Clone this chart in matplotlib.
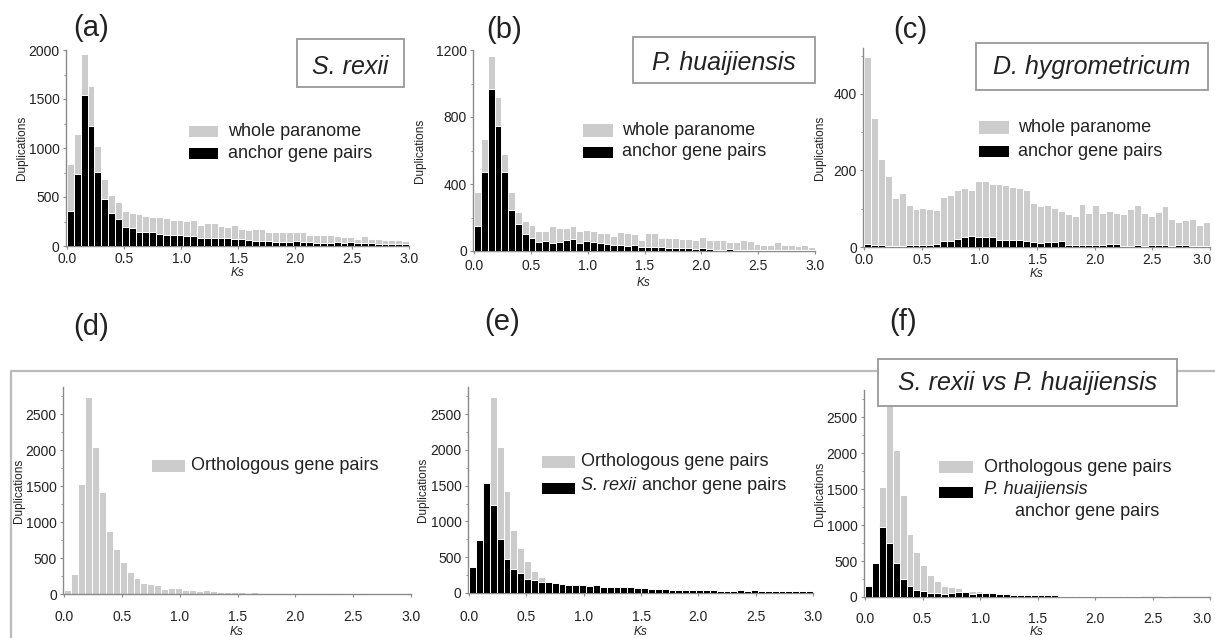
import numpy as np
import matplotlib
matplotlib.use("Agg")
import matplotlib.pyplot as plt
from matplotlib.patches import Rectangle
from matplotlib.lines import Line2D
from matplotlib.ticker import MultipleLocator
from matplotlib.transforms import ScaledTranslation

plt.rcParams['font.family'] = ['Liberation Sans', 'DejaVu Sans']

# ---------------- data (Ks bins of width 0.06, 0.0 - 3.0) ----------------
bin_width = 0.06
bin_left = np.round(np.arange(50) * bin_width, 2)

srexii_whole = [840, 1147, 1956, 1631, 1024, 683, 522, 454, 362, 341,
                324, 311, 297, 294, 283, 266, 266, 253, 266, 215,
                232, 232, 205, 198, 212, 177, 164, 177, 177, 143,
                140, 140, 140, 140, 140, 116, 109, 109, 109, 102,
                96, 96, 68, 102, 75, 68, 61, 61, 58, 55]
srexii_anchor = [358, 737, 1539, 1229, 751, 478, 341, 280, 198, 184,
                 147, 147, 143, 119, 116, 113, 113, 99, 106, 78,
                 78, 78, 78, 85, 68, 68, 61, 55, 55, 48,
                 44, 44, 44, 48, 44, 38, 34, 34, 34, 38,
                 34, 41, 27, 27, 27, 24, 24, 24, 24, 24]

phuai_whole = [354, 669, 1162, 921, 581, 355, 232, 178, 158, 118,
               122, 148, 138, 136, 150, 120, 126, 120, 110, 110,
               92, 114, 110, 100, 68, 108, 108, 80, 80, 80,
               72, 72, 68, 84, 66, 66, 66, 52, 56, 66,
               58, 44, 38, 38, 54, 34, 36, 28, 34, 24]
phuai_anchor = [150, 469, 970, 745, 469, 244, 160, 104, 80, 56,
                58, 48, 56, 68, 72, 48, 60, 56, 50, 42,
                38, 34, 28, 34, 24, 24, 24, 22, 20, 16,
                20, 16, 14, 16, 12, 8, 8, 12, 8, 8,
                6, 6, 4, 8, 6, 6, 6, 4, 6, 4]

dhyg_whole = [496, 337, 229, 186, 127, 141, 111, 98, 103, 98,
              96, 130, 136, 150, 154, 149, 172, 172, 165, 165,
              161, 156, 153, 148, 114, 108, 111, 103, 94, 85,
              81, 112, 90, 111, 88, 95, 88, 86, 100, 110,
              88, 80, 92, 106, 73, 66, 70, 72, 58, 65]
dhyg_anchor = [8, 4, 4, 2, 2, 2, 4, 5, 5, 6,
               8, 15, 16, 22, 25, 28, 26, 25, 26, 18,
               18, 18, 18, 15, 12, 10, 12, 12, 15, 5,
               5, 5, 5, 6, 5, 8, 8, 3, 2, 5,
               2, 4, 4, 4, 2, 4, 4, 2, 2, 2]

orthologous = [56, 278, 1528, 2741, 2046, 1426, 875, 630, 449, 306,
               227, 148, 134, 125, 74, 79, 79, 56, 51, 42,
               56, 37, 32, 28, 28, 23, 19, 28, 14, 12,
               12, 10, 10, 9, 8, 9, 7, 7, 6, 9,
               6, 6, 7, 6, 6, 5, 5, 4, 4, 4]

x_ticks = [0.0, 0.5, 1.0, 1.5, 2.0, 2.5, 3.0]
x_ticklabels = ['0.0', '0.5', '1.0', '1.5', '2.0', '2.5', '3.0']

GRAY = '#cccccc'
BLACK = '#000000'
SPINE = '#8a8a8a'
TXT = '#222222'

W, H = 1215, 638
fig = plt.figure(figsize=(W / 100, H / 100), dpi=100)


def fx(x):
    return x / W


def fy(y):
    return 1 - y / H


def make_ax(x0, x1, y0, y1):
    return fig.add_axes([fx(x0), fy(y1), (x1 - x0) / W, (y1 - y0) / H])


def style_ax(ax, ylim, yticks, ystep_minor, x_pad, ylab_dx, ks_dy, axh,
             last_shift=0):
    ax.set_xlim(-0.01, 3.0)
    ax.set_ylim(*ylim)
    for s in ['top', 'right']:
        ax.spines[s].set_visible(False)
    for s in ['left', 'bottom']:
        ax.spines[s].set_color(SPINE)
        ax.spines[s].set_linewidth(1.0)
    ax.set_xticks(x_ticks)
    ax.set_xticklabels(x_ticklabels)
    ax.set_yticks(yticks)
    ax.yaxis.set_minor_locator(MultipleLocator(ystep_minor))
    ax.tick_params(axis='x', length=2.5, width=0.8, color=SPINE, labelsize=10,
                   labelcolor=TXT, pad=x_pad)
    ax.tick_params(axis='y', which='major', length=2.5, width=0.8, color=SPINE,
                   labelsize=10, labelcolor=TXT, pad=2)
    ax.tick_params(axis='y', which='minor', length=1.5, width=0.6, color=SPINE)
    if last_shift:
        lab = ax.get_xticklabels()[-1]
        lab.set_transform(lab.get_transform() +
                          ScaledTranslation(-last_shift / 100, 0, fig.dpi_scale_trans))
    ax.set_ylabel('Duplications', fontsize=8.5, color=TXT)
    ax.yaxis.label.set_va('center')
    ax.yaxis.set_label_coords(ylab_dx, 0.5)
    ax.set_xlabel('Ks', fontsize=8.5, style='italic', color=TXT)
    ax.xaxis.label.set_va('center')
    ax.xaxis.set_label_coords(0.5, -ks_dy / axh)
    ax.set_facecolor('none')


def bars(ax, vals, color, z):
    ax.bar(bin_left, vals, width=bin_width, align='edge', color=color,
           edgecolor='white', linewidth=0.7, zorder=z)


def legend_patch(x0, x1, y0, y1, color):
    fig.add_artist(Rectangle((fx(x0), fy(y1)), (x1 - x0) / W, (y1 - y0) / H,
                             transform=fig.transFigure, facecolor=color,
                             edgecolor='none'))


def ftext(x, y, s, **kw):
    kw.setdefault('fontsize', 13)
    kw.setdefault('color', TXT)
    kw.setdefault('va', 'center')
    fig.text(fx(x), fy(y), s, **kw)


def title_box(x0, x1, y0, y1, s, baseline):
    fig.add_artist(Rectangle((fx(x0), fy(y1)), (x1 - x0) / W, (y1 - y0) / H,
                             transform=fig.transFigure, facecolor='white',
                             edgecolor='#999999', linewidth=1.3, zorder=5))
    fig.text(fx((x0 + x1) / 2), fy(baseline), s, fontsize=18, style='italic',
             ha='center', va='baseline', color=TXT, zorder=6)


# ---------------- frame around the bottom row ----------------
fig.add_artist(Line2D([fx(11), fx(11), fx(1215)], [fy(638), fy(371), fy(371)],
                      transform=fig.transFigure, color='#bbbbbb', linewidth=1.6))

# ---------------- (a) ----------------
ax = make_ax(66, 409, 50, 246)
bars(ax, srexii_whole, GRAY, 2)
bars(ax, srexii_anchor, BLACK, 3)
style_ax(ax, (0, 2000), [0, 500, 1000, 1500, 2000], 250, 1.5, -44 / 343, 27, 196)

# ---------------- (b) ----------------
ax = make_ax(473, 815, 50, 251)
bars(ax, phuai_whole, GRAY, 2)
bars(ax, phuai_anchor, BLACK, 3)
style_ax(ax, (0, 1200), [0, 400, 800, 1200], 200, 3, -53 / 342, 32, 201)

# ---------------- (c) ----------------
ax = make_ax(863, 1210, 48, 247)
bars(ax, dhyg_whole, GRAY, 2)
bars(ax, dhyg_anchor, BLACK, 3)
style_ax(ax, (0, 520), [0, 200, 400], 100, 1.5, -43 / 347, 27, 199, last_shift=8)

# ---------------- (d) ----------------
ax = make_ax(63, 411, 387, 594)
bars(ax, orthologous, GRAY, 2)
style_ax(ax, (0, 2880), [0, 500, 1000, 1500, 2000, 2500], 250, 9, -44 / 348, 38, 207)

# ---------------- (e) ----------------
ax = make_ax(468, 813, 387, 593)
bars(ax, orthologous, GRAY, 2)
bars(ax, srexii_anchor, BLACK, 3)
style_ax(ax, (0, 2880), [0, 500, 1000, 1500, 2000, 2500], 250, 10, -45 / 345, 39, 206)

# ---------------- (f) ----------------
ax = make_ax(864, 1210, 390, 597)
bars(ax, orthologous, GRAY, 2)
bars(ax, phuai_anchor, BLACK, 3)
style_ax(ax, (0, 2880), [0, 500, 1000, 1500, 2000, 2500], 250, 8, -44 / 346, 35, 207,
         last_shift=8)

# ---------------- panel letters ----------------
for lab, x, y in [('(a)', 91, 28), ('(b)', 504, 30), ('(c)', 910, 30),
                  ('(d)', 91, 327), ('(e)', 502, 322), ('(f)', 903, 322)]:
    fig.text(fx(x), fy(y), lab, fontsize=21, ha='center', va='center', color=TXT)

# ---------------- title boxes ----------------
title_box(297, 404, 39, 87, 'S. rexii', 74)
title_box(633, 815, 37, 83, 'P. huaijiensis', 70)
title_box(976, 1208, 43, 90, 'D. hygrometricum', 74)
title_box(878, 1177, 359, 406, 'S. rexii vs P. huaijiensis', 390)

# ---------------- legends ----------------
# (a)
legend_patch(189, 218, 126, 137, GRAY)
legend_patch(189, 218, 148, 159, BLACK)
ftext(228, 131, 'whole paranome')
ftext(228, 153, 'anchor gene pairs')
# (b)
legend_patch(583, 613, 124, 137, GRAY)
legend_patch(583, 613, 147, 158, BLACK)
ftext(622, 130, 'whole paranome')
ftext(622, 152, 'anchor gene pairs')
# (c)
legend_patch(979, 1009, 121, 134, GRAY)
legend_patch(979, 1009, 146, 157, BLACK)
ftext(1018, 127, 'whole paranome')
ftext(1018, 151, 'anchor gene pairs')
# (d)
legend_patch(152, 185, 460, 472, GRAY)
ftext(191, 466, 'Orthologous gene pairs')
# (e)
legend_patch(542, 575, 456, 468, GRAY)
legend_patch(542, 575, 483, 494, BLACK)
ftext(581, 462, 'Orthologous gene pairs')
ftext(581, 485, 'S. rexii', style='italic')
ftext(642, 485, 'anchor gene pairs')
# (f)
legend_patch(939, 973, 461, 473, GRAY)
legend_patch(939, 973, 487, 498, BLACK)
ftext(984, 467, 'Orthologous gene pairs')
ftext(984, 490, 'P. huaijiensis', style='italic')
ftext(1015, 512, 'anchor gene pairs')

fig.savefig('out.png', dpi=100, facecolor='white')
